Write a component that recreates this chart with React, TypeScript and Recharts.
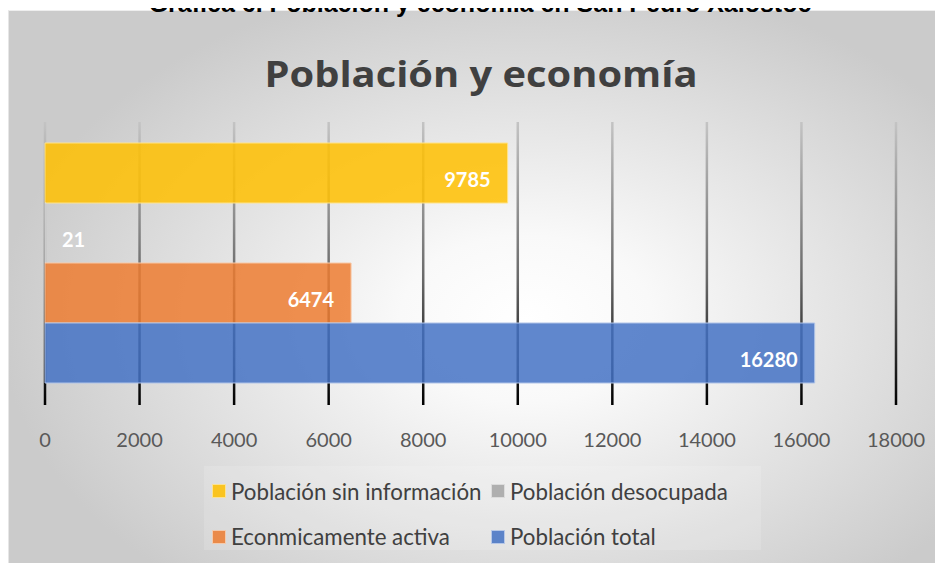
import { Bar, BarChart, CartesianGrid, LabelList, Legend, XAxis, YAxis } from 'recharts';

const categories = ['San Pedro Xalostoc'];
const sinInformacion = [9785];
const desocupada = [21];
const economicamenteActiva = [6474];
const poblacionTotal = [16280];
const xTicks = [0, 2000, 4000, 6000, 8000, 10000, 12000, 14000, 16000, 18000];

const series = [
  { key: 'sinInfo', name: 'Población sin información', values: sinInformacion, color: '#FFC000', edge: '#FFE38A' },
  { key: 'desocupada', name: 'Población desocupada', values: desocupada, color: '#A5A5A5', edge: '#DADADA' },
  { key: 'activa', name: 'Econmicamente activa', values: economicamenteActiva, color: '#ED7D31', edge: '#F8C8A6' },
  { key: 'total', name: 'Población total', values: poblacionTotal, color: '#4472C4', edge: '#AFC3E8' },
];

const data = categories.map((name, i) => {
  const row: Record<string, string | number> = { name };
  series.forEach((s) => (row[s.key] = s.values[i]));
  return row;
});

const FONT = 'Lato, "Open Sans", sans-serif';

const renderValue = (props: any) => {
  const { x, y, width, height, value } = props;
  const small = width < 60;
  return (
    <text
      x={small ? x + width + 16 : x + width - 17}
      y={y + height / 2 + 14}
      textAnchor={small ? 'start' : 'end'}
      fill="#ffffff"
      fontFamily={FONT}
      fontWeight="bold"
      fontSize={20}
    >
      {value}
    </text>
  );
};

const renderLegend = () => (
  <div
    style={{
      display: 'grid',
      gridTemplateColumns: '279px 250px',
      rowGap: 19,
      paddingLeft: 8,
      paddingTop: 12,
      fontFamily: FONT,
      fontSize: 22.3,
      color: '#404040',
      background: 'rgba(255,255,255,0.14)',
      height: 84,
      boxSizing: 'border-box',
    }}
  >
    {series.map((s) => (
      <div key={s.key} style={{ display: 'flex', alignItems: 'center', height: 26, whiteSpace: 'nowrap' }}>
        <span
          style={{
            width: 12,
            height: 12,
            background: s.color,
            opacity: 0.85,
            border: `1px solid ${s.edge}`,
            marginRight: 5,
            display: 'inline-block',
          }}
        />
        {s.name}
      </div>
    ))}
  </div>
);

export default function App() {
  return (
    <div style={{ position: 'relative', left: -8, top: -8, width: 943, height: 563, background: '#fff', overflow: 'hidden' }}>
      <div
        style={{
          position: 'absolute',
          left: 8,
          top: 10,
          width: 940,
          height: 560,
          borderLeft: '1px solid #e6e6e6',
          borderTop: '1px solid #eeeeee',
          background:
            'radial-gradient(ellipse 56% 62% at 55% 55%, #ffffff 0%, #f9f9f9 24%, #cbcbcb 100%)',
        }}
      />
      <div style={{ position: 'absolute', left: 0, top: 0 }}>
        <BarChart
          width={943}
          height={563}
          data={data}
          layout="vertical"
          margin={{ top: 122, right: 47, bottom: 128, left: 45 }}
          barCategoryGap={21}
          barGap={0}
        >
          <defs>
            <linearGradient id="gridFade" gradientUnits="userSpaceOnUse" x1="0" y1="122" x2="0" y2="405">
              <stop offset="0%" stopColor="#c4c4c4" />
              <stop offset="55%" stopColor="#6a6a6a" />
              <stop offset="100%" stopColor="#000000" />
            </linearGradient>
          </defs>
          <CartesianGrid horizontal={false} stroke="url(#gridFade)" strokeWidth={2.5} />
          <XAxis
            type="number"
            domain={[0, 18000]}
            ticks={xTicks}
            tickLine={false}
            axisLine={false}
            tickSize={0}
            tickMargin={28}
            height={30}
            interval={0}
            tick={{ fill: '#595959', fontSize: 20, fontFamily: FONT }}
          />
          <YAxis type="category" dataKey="name" hide />
          {series.map((s) => (
            <Bar
              key={s.key}
              dataKey={s.key}
              name={s.name}
              fill={s.color}
              fillOpacity={0.85}
              stroke={s.edge}
              strokeWidth={1}
              isAnimationActive={false}
            >
              <LabelList dataKey={s.key} content={renderValue} />
            </Bar>
          ))}
          <Legend
            layout="horizontal"
            verticalAlign="middle"
            align="center"
            content={renderLegend}
            wrapperStyle={{ position: 'absolute', left: 204, top: 466, width: 557, height: 84 }}
          />
        </BarChart>
      </div>
      <svg width={943} height={563} style={{ position: 'absolute', left: 0, top: 0, pointerEvents: 'none' }}>
        <text
          x={480}
          y={12}
          textAnchor="middle"
          fontFamily='"Liberation Sans", Arial, sans-serif'
          fontWeight="bold"
          fontSize={25}
          fill="#000"
        >
          Gráfica 6. Población y economía en San Pedro Xalostoc
        </text>
        <text
          x={481}
          y={87}
          textAnchor="middle"
          fontFamily='"Open Sans", Lato, sans-serif'
          fontWeight="bold"
          fontSize={35}
          textLength={433}
          lengthAdjust="spacingAndGlyphs"
          fill="#404040"
        >
          Población y economía
        </text>
      </svg>
    </div>
  );
}
